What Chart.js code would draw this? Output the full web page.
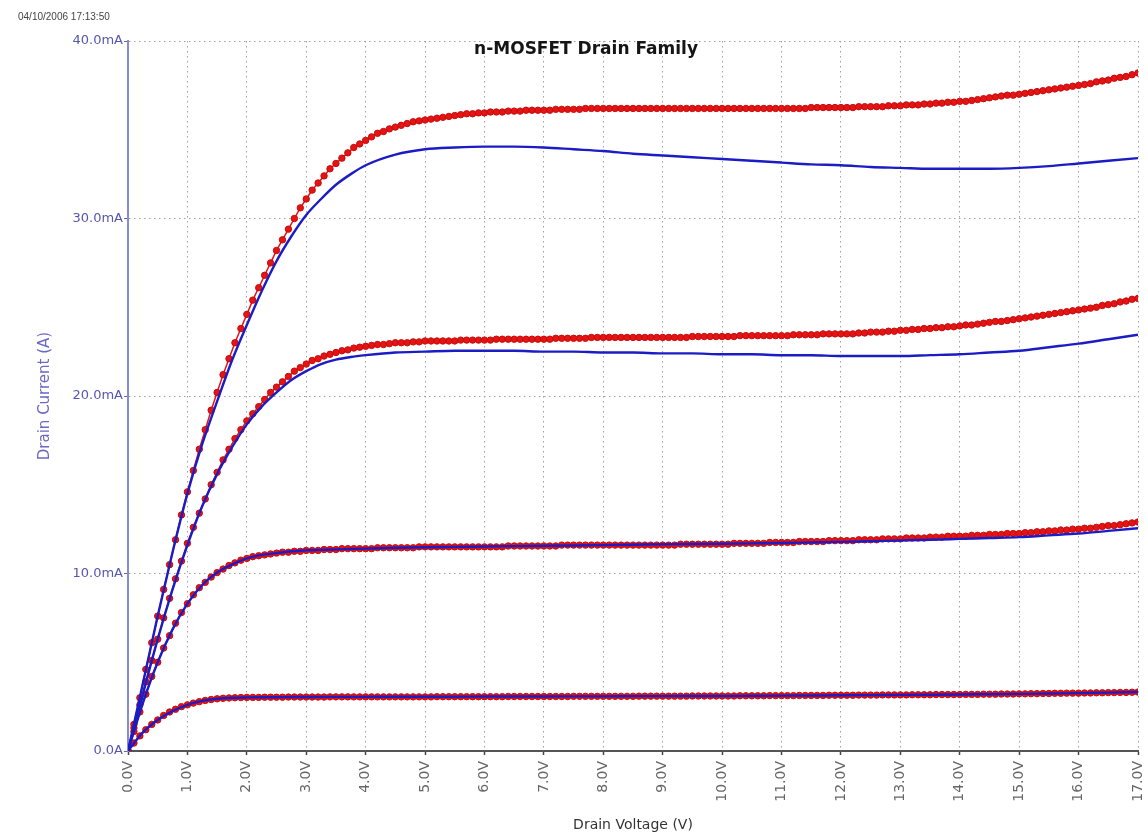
<!DOCTYPE html>
<html>
<head>
<meta charset="utf-8">
<title>n-MOSFET Drain Family</title>
<script src="https://cdn.jsdelivr.net/npm/chart.js@4/dist/chart.umd.min.js"></script>
<style>
  html, body { margin: 0; padding: 0; background: #ffffff; }
  #chart-wrap { width: 1148px; height: 835px; }
</style>
</head>
<body>
<div id="chart-wrap"><canvas id="drain-chart" width="1148" height="835"></canvas></div>
<script>
// Chart texts
const chartTitle = 'n-MOSFET Drain Family';
const timeStamp = '04/10/2006 17:13:50';
const xTitle = 'Drain Voltage (V)';
const yTitle = 'Drain Current (A)';

// Measured sweep (red dots), drain voltage in V
const measVolts = [
  0.0, 0.1, 0.2, 0.3, 0.4, 0.5, 0.6, 0.7, 0.8, 0.9,
  1.0, 1.1, 1.2, 1.3, 1.4, 1.5, 1.6, 1.7, 1.8, 1.9,
  2.0, 2.1, 2.2, 2.3, 2.4, 2.5, 2.6, 2.7, 2.8, 2.9,
  3.0, 3.1, 3.2, 3.3, 3.4, 3.5, 3.6, 3.7, 3.8, 3.9,
  4.0, 4.1, 4.2, 4.3, 4.4, 4.5, 4.6, 4.7, 4.8, 4.9,
  5.0, 5.1, 5.2, 5.3, 5.4, 5.5, 5.6, 5.7, 5.8, 5.9,
  6.0, 6.1, 6.2, 6.3, 6.4, 6.5, 6.6, 6.7, 6.8, 6.9,
  7.0, 7.1, 7.2, 7.3, 7.4, 7.5, 7.6, 7.7, 7.8, 7.9,
  8.0, 8.1, 8.2, 8.3, 8.4, 8.5, 8.6, 8.7, 8.8, 8.9,
  9.0, 9.1, 9.2, 9.3, 9.4, 9.5, 9.6, 9.7, 9.8, 9.9,
  10.0, 10.1, 10.2, 10.3, 10.4, 10.5, 10.6, 10.7, 10.8, 10.9,
  11.0, 11.1, 11.2, 11.3, 11.4, 11.5, 11.6, 11.7, 11.8, 11.9,
  12.0, 12.1, 12.2, 12.3, 12.4, 12.5, 12.6, 12.7, 12.8, 12.9,
  13.0, 13.1, 13.2, 13.3, 13.4, 13.5, 13.6, 13.7, 13.8, 13.9,
  14.0, 14.1, 14.2, 14.3, 14.4, 14.5, 14.6, 14.7, 14.8, 14.9,
  15.0, 15.1, 15.2, 15.3, 15.4, 15.5, 15.6, 15.7, 15.8, 15.9,
  16.0, 16.1, 16.2, 16.3, 16.4, 16.5, 16.6, 16.7, 16.8, 16.9,
  17.0
];

// Measured drain current (mA), one array per gate step
const meas4 = [
  0, 1.5, 3.0, 4.6, 6.1, 7.6, 9.1, 10.5, 11.9, 13.3,
  14.6, 15.8, 17.0, 18.1, 19.2, 20.2, 21.2, 22.1, 23.0, 23.8,
  24.6, 25.4, 26.1, 26.8, 27.5, 28.2, 28.8, 29.4, 30.0, 30.6,
  31.1, 31.6, 32.0, 32.4, 32.8, 33.1, 33.4, 33.7, 34.0, 34.2,
  34.4, 34.6, 34.8, 34.9, 35.05, 35.15, 35.25, 35.35, 35.45, 35.5,
  35.55, 35.6, 35.65, 35.7, 35.75, 35.8, 35.85, 35.9, 35.9, 35.95,
  35.95, 36.0, 36.0, 36.0, 36.05, 36.05, 36.05, 36.1, 36.1, 36.1,
  36.1, 36.1, 36.15, 36.15, 36.15, 36.15, 36.15, 36.2, 36.2, 36.2,
  36.2, 36.2, 36.2, 36.2, 36.2, 36.2, 36.2, 36.2, 36.2, 36.2,
  36.2, 36.2, 36.2, 36.2, 36.2, 36.2, 36.2, 36.2, 36.2, 36.2,
  36.2, 36.2, 36.2, 36.2, 36.2, 36.2, 36.2, 36.2, 36.2, 36.2,
  36.2, 36.2, 36.2, 36.2, 36.2, 36.25, 36.25, 36.25, 36.25, 36.25,
  36.25, 36.25, 36.25, 36.3, 36.3, 36.3, 36.3, 36.3, 36.35, 36.35,
  36.35, 36.4, 36.4, 36.4, 36.45, 36.45, 36.5, 36.5, 36.55, 36.55,
  36.6, 36.6, 36.65, 36.7, 36.75, 36.8, 36.85, 36.9, 36.95, 36.95,
  37.0, 37.05, 37.1, 37.15, 37.2, 37.25, 37.3, 37.35, 37.4, 37.45,
  37.5, 37.55, 37.6, 37.7, 37.75, 37.8, 37.9, 37.95, 38.0, 38.1,
  38.2
];

const meas3 = [
  0, 1.3, 2.6, 3.9, 5.1, 6.3, 7.5, 8.6, 9.7, 10.7,
  11.7, 12.6, 13.4, 14.2, 15.0, 15.7, 16.4, 17.0, 17.6, 18.1,
  18.6, 19.0, 19.4, 19.8, 20.2, 20.5, 20.8, 21.1, 21.4, 21.6,
  21.8, 22.0, 22.1, 22.25, 22.35, 22.45, 22.55, 22.6, 22.7, 22.75,
  22.8, 22.85, 22.9, 22.9, 22.95, 23.0, 23.0, 23.0, 23.05, 23.05,
  23.1, 23.1, 23.1, 23.1, 23.1, 23.1, 23.15, 23.15, 23.15, 23.15,
  23.15, 23.15, 23.2, 23.2, 23.2, 23.2, 23.2, 23.2, 23.2, 23.2,
  23.2, 23.2, 23.25, 23.25, 23.25, 23.25, 23.25, 23.25, 23.3, 23.3,
  23.3, 23.3, 23.3, 23.3, 23.3, 23.3, 23.3, 23.3, 23.3, 23.3,
  23.3, 23.3, 23.3, 23.3, 23.3, 23.35, 23.35, 23.35, 23.35, 23.35,
  23.35, 23.35, 23.35, 23.4, 23.4, 23.4, 23.4, 23.4, 23.4, 23.4,
  23.4, 23.4, 23.45, 23.45, 23.45, 23.45, 23.45, 23.5, 23.5, 23.5,
  23.5, 23.5, 23.5, 23.55, 23.55, 23.6, 23.6, 23.6, 23.65, 23.65,
  23.7, 23.7, 23.75, 23.75, 23.8, 23.8, 23.85, 23.85, 23.9, 23.9,
  23.95, 24.0, 24.0, 24.05, 24.1, 24.15, 24.2, 24.2, 24.25, 24.3,
  24.35, 24.4, 24.45, 24.5, 24.55, 24.6, 24.65, 24.7, 24.75, 24.8,
  24.85, 24.9, 24.95, 25.0, 25.1, 25.15, 25.2, 25.3, 25.35, 25.45,
  25.5
];

const meas2 = [
  0, 1.1, 2.2, 3.2, 4.2, 5.0, 5.8, 6.5, 7.2, 7.8,
  8.3, 8.8, 9.2, 9.5, 9.8, 10.05, 10.25, 10.45, 10.6, 10.75,
  10.85, 10.95, 11.0, 11.05, 11.1, 11.15, 11.2, 11.2, 11.25, 11.25,
  11.3, 11.3, 11.3, 11.35, 11.35, 11.35, 11.4, 11.4, 11.4, 11.4,
  11.4, 11.4, 11.45, 11.45, 11.45, 11.45, 11.45, 11.45, 11.45, 11.5,
  11.5, 11.5, 11.5, 11.5, 11.5, 11.5, 11.5, 11.5, 11.5, 11.5,
  11.5, 11.5, 11.5, 11.5, 11.55, 11.55, 11.55, 11.55, 11.55, 11.55,
  11.55, 11.55, 11.55, 11.6, 11.6, 11.6, 11.6, 11.6, 11.6, 11.6,
  11.6, 11.6, 11.6, 11.6, 11.6, 11.6, 11.6, 11.6, 11.6, 11.6,
  11.6, 11.6, 11.6, 11.65, 11.65, 11.65, 11.65, 11.65, 11.65, 11.65,
  11.65, 11.65, 11.7, 11.7, 11.7, 11.7, 11.7, 11.7, 11.75, 11.75,
  11.75, 11.75, 11.75, 11.8, 11.8, 11.8, 11.8, 11.8, 11.85, 11.85,
  11.85, 11.85, 11.85, 11.9, 11.9, 11.9, 11.9, 11.95, 11.95, 11.95,
  11.95, 12.0, 12.0, 12.0, 12.0, 12.05, 12.05, 12.05, 12.1, 12.1,
  12.1, 12.1, 12.15, 12.15, 12.15, 12.2, 12.2, 12.2, 12.25, 12.25,
  12.25, 12.3, 12.3, 12.35, 12.35, 12.4, 12.4, 12.45, 12.45, 12.5,
  12.5, 12.55, 12.55, 12.6, 12.65, 12.7, 12.7, 12.75, 12.8, 12.85,
  12.9
];

const meas1 = [
  0, 0.45, 0.85, 1.2, 1.5, 1.75, 2.0, 2.2, 2.35, 2.5,
  2.6, 2.7, 2.78, 2.85, 2.9, 2.94, 2.97, 2.99, 3.0, 3.01,
  3.02, 3.02, 3.02, 3.03, 3.03, 3.03, 3.03, 3.04, 3.04, 3.04,
  3.04, 3.04, 3.04, 3.04, 3.05, 3.05, 3.05, 3.05, 3.05, 3.05,
  3.05, 3.05, 3.05, 3.05, 3.05, 3.05, 3.05, 3.05, 3.05, 3.05,
  3.05, 3.05, 3.06, 3.06, 3.06, 3.06, 3.06, 3.06, 3.06, 3.06,
  3.06, 3.06, 3.06, 3.06, 3.07, 3.07, 3.07, 3.07, 3.07, 3.07,
  3.07, 3.07, 3.07, 3.07, 3.07, 3.08, 3.08, 3.08, 3.08, 3.08,
  3.08, 3.08, 3.08, 3.08, 3.08, 3.08, 3.09, 3.09, 3.09, 3.09,
  3.09, 3.09, 3.09, 3.09, 3.09, 3.1, 3.1, 3.1, 3.1, 3.1,
  3.1, 3.1, 3.1, 3.11, 3.11, 3.11, 3.11, 3.11, 3.12, 3.12,
  3.12, 3.12, 3.12, 3.13, 3.13, 3.13, 3.13, 3.13, 3.14, 3.14,
  3.14, 3.14, 3.14, 3.15, 3.15, 3.15, 3.15, 3.16, 3.16, 3.16,
  3.16, 3.16, 3.17, 3.17, 3.17, 3.17, 3.18, 3.18, 3.18, 3.18,
  3.18, 3.19, 3.19, 3.19, 3.2, 3.2, 3.2, 3.21, 3.21, 3.21,
  3.22, 3.22, 3.23, 3.23, 3.24, 3.24, 3.25, 3.25, 3.26, 3.26,
  3.26, 3.27, 3.27, 3.28, 3.28, 3.29, 3.29, 3.3, 3.3, 3.31,
  3.32
];

// Model curves (blue lines)
const modelVolts = [
  0, 0.25, 0.5, 0.75, 1, 1.25, 1.5, 1.75, 2, 2.25, 2.5, 2.75, 3, 3.25, 3.5, 3.75, 4,
  4.5, 5, 5.5, 6, 6.5, 7, 7.5, 8, 8.5, 9, 9.5, 10, 10.5, 11, 11.5, 12,
  12.5, 13, 13.5, 14, 14.5, 15, 15.5, 16, 16.5, 17
];
const model4 = [
  0, 3.8, 7.6, 11.2, 14.5, 17.3, 19.7, 22.0, 24.0, 25.9, 27.6, 29.0, 30.2, 31.1, 31.9, 32.5, 33.0,
  33.6, 33.9, 34.0, 34.05, 34.05, 34.0, 33.9, 33.8, 33.65, 33.55, 33.45, 33.35, 33.25, 33.15, 33.05, 33.0,
  32.9, 32.85, 32.8, 32.8, 32.8, 32.85, 32.95, 33.1, 33.25, 33.4
];
const model3 = [
  0, 3.2, 6.3, 9.1, 11.6, 13.8, 15.6, 17.1, 18.4, 19.4, 20.2, 20.9, 21.4, 21.8, 22.05, 22.2, 22.3,
  22.45, 22.5, 22.55, 22.55, 22.55, 22.5, 22.5, 22.45, 22.45, 22.4, 22.4, 22.35, 22.35, 22.3, 22.3, 22.25,
  22.25, 22.25, 22.3, 22.35, 22.45, 22.55, 22.75, 22.95, 23.2, 23.45
];
const model2 = [
  0, 2.7, 5.0, 6.85, 8.3, 9.35, 10.05, 10.5, 10.85, 11.05, 11.15, 11.25, 11.3, 11.33, 11.36, 11.38, 11.4,
  11.45, 11.48, 11.5, 11.52, 11.54, 11.56, 11.58, 11.6, 11.62, 11.64, 11.66, 11.68, 11.7, 11.72, 11.75, 11.78,
  11.82, 11.86, 11.9, 11.95, 12.0, 12.05, 12.15, 12.25, 12.4, 12.55
];
const model1 = [
  0, 1.05, 1.75, 2.25, 2.6, 2.82, 2.94, 3.0, 3.02, 3.03, 3.03, 3.04, 3.04, 3.05, 3.05, 3.05, 3.05,
  3.06, 3.06, 3.06, 3.07, 3.07, 3.07, 3.08, 3.08, 3.09, 3.09, 3.1, 3.1, 3.11, 3.12, 3.13, 3.14,
  3.15, 3.16, 3.17, 3.18, 3.2, 3.22, 3.24, 3.26, 3.29, 3.32
];

// Colours and fonts
const MODEL_BLUE = '#1c1cc4';
const MEAS_RED = '#e41414';
const AXIS_BLUE = '#5656b0';
const GRID_GREY = '#a0a0a0';
const FONT = '"DejaVu Sans", Verdana, sans-serif';

// Pair x and y arrays into points
function toPoints(xs, ys) {
  return xs.map((x, i) => ({ x: x, y: ys[i] }));
}

function modelSet(ys) {
  return {
    data: toPoints(modelVolts, ys),
    borderColor: MODEL_BLUE,
    borderWidth: 2.4,
    pointRadius: 0,
    cubicInterpolationMode: 'monotone',
    fill: false
  };
}

function measSet(ys) {
  return {
    data: toPoints(measVolts, ys),
    borderColor: MEAS_RED,
    borderWidth: 1.5,
    pointRadius: 3.2,
    pointBackgroundColor: MEAS_RED,
    pointBorderColor: '#c80a0a',
    pointBorderWidth: 1,
    tension: 0,
    fill: false
  };
}

// Title and time stamp drawn on the canvas
const textPlugin = {
  id: 'textPlugin',
  afterDraw(chart) {
    const ctx = chart.ctx;
    const area = chart.chartArea;
    ctx.save();
    ctx.fillStyle = '#151515';
    ctx.font = 'bold 17px ' + FONT;
    ctx.textAlign = 'center';
    ctx.textBaseline = 'middle';
    ctx.fillText(chartTitle, area.left + (area.right - area.left) * 0.4535, 50);

    ctx.fillStyle = '#444444';
    ctx.font = '10px "Liberation Sans", Arial, sans-serif';
    ctx.textAlign = 'left';
    ctx.fillText(timeStamp, 18, 17);
    ctx.restore();
  }
};

// Datasets drawn first in the list end up on top, so blue goes first
const datasets = [
  modelSet(model4), modelSet(model3), modelSet(model2), modelSet(model1),
  measSet(meas4), measSet(meas3), measSet(meas2), measSet(meas1)
];

const ctx = document.getElementById('drain-chart').getContext('2d');
const drainChart = new Chart(ctx, {
  type: 'line',
  data: { datasets: datasets },
  plugins: [textPlugin],
  options: {
    responsive: false,
    animation: false,
    layout: { padding: { top: 41, right: 10, bottom: 0, left: 0 } },
    plugins: {
      legend: { display: false },
      tooltip: { enabled: false },
      title: { display: false }
    },
    scales: {
      x: {
        type: 'linear',
        min: 0,
        max: 17,
        afterFit(scale) {
          scale.height = 84;
          scale.paddingLeft = 0;
          scale.paddingRight = 0;
        },
        border: { display: true, color: '#555555', width: 2, dash: [1.5, 3.5] },
        grid: {
          color: GRID_GREY,
          lineWidth: 1,
          drawTicks: true,
          tickLength: 4,
          tickColor: '#444444',
          tickBorderDash: [],
          tickWidth: 1.5
        },
        ticks: {
          stepSize: 1,
          autoSkip: false,
          minRotation: 90,
          maxRotation: 90,
          padding: 6,
          color: '#666666',
          font: { family: FONT, size: 14 },
          callback: value => value.toFixed(1) + 'V'
        },
        title: {
          display: true,
          text: xTitle,
          color: '#333333',
          font: { family: FONT, size: 14 },
          padding: { top: 0, bottom: 1 }
        }
      },
      y: {
        type: 'linear',
        min: 0,
        max: 40,
        afterFit(scale) {
          scale.width = 128;
          scale.paddingTop = 0;
          scale.paddingBottom = 0;
        },
        border: { display: true, color: '#8a8ad0', width: 2, dash: [1.5, 3.5] },
        grid: {
          color: GRID_GREY,
          lineWidth: 1,
          drawTicks: true,
          tickLength: 4,
          tickColor: '#666699',
          tickBorderDash: [],
          tickWidth: 1
        },
        ticks: {
          stepSize: 10,
          padding: 1,
          color: AXIS_BLUE,
          font: { family: FONT, size: 13 },
          callback: value => value === 0 ? '0.0A' : value.toFixed(1) + 'mA'
        },
        title: {
          display: true,
          text: yTitle,
          color: '#6a6ac0',
          font: { family: FONT, size: 15 },
          padding: { top: 36, bottom: 0 }
        }
      }
    }
  }
});
</script>
</body>
</html>
